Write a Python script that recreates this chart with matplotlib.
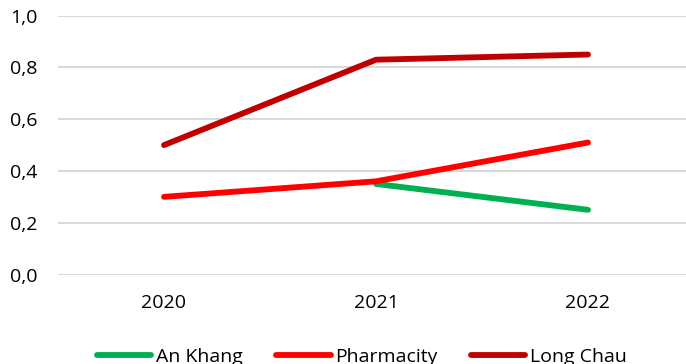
import matplotlib
matplotlib.use("Agg")
import matplotlib.pyplot as plt
import numpy as np

years = ["2020", "2021", "2022"]
an_khang = [np.nan, 0.35, 0.25]
pharmacity = [0.30, 0.36, 0.51]
long_chau = [0.50, 0.83, 0.85]
series_names = ["An Khang", "Pharmacity", "Long Chau"]
colors = ["#00B050", "#FF0000", "#C00000"]
yticks = [0.0, 0.2, 0.4, 0.6, 0.8, 1.0]

plt.rcParams['font.family'] = ['Open Sans', 'DejaVu Sans']

W, H = 686, 364
fig = plt.figure(figsize=(W / 100, H / 100), dpi=100)
ax = fig.add_axes([58 / W, (H - 274.5) / H, 636 / W, 258.8 / H])

x = np.arange(len(years))
for vals, name, c in zip([an_khang, pharmacity, long_chau], series_names, colors):
    ax.plot(x, vals, color=c, lw=4.2, solid_capstyle='round', solid_joinstyle='round', label=name)

ax.set_xlim(-0.5, 2.5)
ax.set_ylim(0, 1.0)
ax.set_yticks(yticks)
ax.set_yticklabels([f"{v:.1f}".replace(".", ",") for v in yticks])
ax.set_xticks(x)
ax.set_xticklabels(years)
ax.tick_params(axis='both', length=0, labelsize=14, colors='#000000')
ax.tick_params(axis='y', pad=15)
ax.tick_params(axis='x', pad=14)
ax.grid(axis='y', color='#D9D9D9', lw=1.5)
ax.set_axisbelow(True)
for s in ax.spines.values():
    s.set_visible(False)

fig.legend(loc='center', bbox_to_anchor=(362 / W, 7 / H), ncol=3, frameon=False,
           fontsize=14, handlelength=2.8, handletextpad=0.25, columnspacing=1.7,
           borderpad=0, borderaxespad=0)

fig.savefig("out.png", dpi=100)
